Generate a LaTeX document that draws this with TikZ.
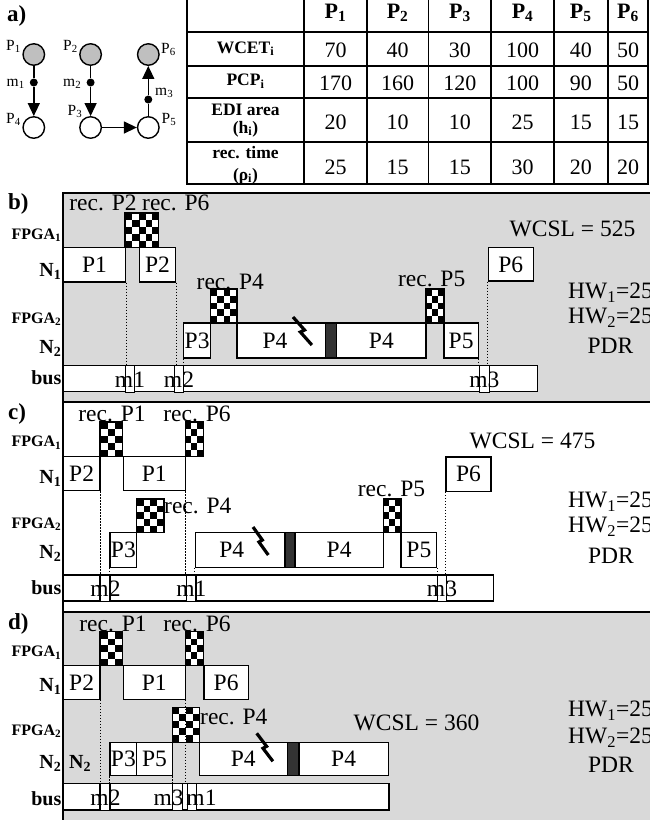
\documentclass[tikz,border=0pt]{standalone}
\usepackage{fontspec}
\setmainfont{Liberation Serif}
\usetikzlibrary{arrows.meta}
\definecolor{panelgray}{HTML}{D9D9D9}
\definecolor{circgray}{HTML}{BFBFBF}
\definecolor{barc}{HTML}{333333}
\tikzset{
  gbox/.style={draw, line width=1.3pt, fill=white, inner sep=0pt, font=\fontsize{23.5}{28}\selectfont},
  mbox/.style={draw, line width=1.1pt, fill=white, inner sep=0pt},
  barbox/.style={draw, line width=1.1pt, fill=barc, inner sep=0pt},
  chkframe/.style={draw, line width=1.3pt, inner sep=0pt},
  lbl/.style={font=\fontsize{23.5}{28}\selectfont, inner sep=0pt},
  rowlbl/.style={font=\bfseries\fontsize{20}{24}\selectfont, anchor=base east, inner sep=0pt},
  fpgalbl/.style={font=\bfseries\fontsize{16}{19}\selectfont, anchor=base east, inner sep=0pt},
  panlbl/.style={font=\bfseries\fontsize{23}{27}\selectfont, anchor=base west, inner sep=0pt},
  dotl/.style={line width=1pt, dash pattern=on 1.2pt off 1.8pt},
  border/.style={line width=1.8pt},
  tline/.style={line width=1.7pt},
  thead/.style={font=\bfseries\fontsize{22}{26}\selectfont, anchor=base, inner sep=0pt},
  tnum/.style={font=\fontsize{22}{26}\selectfont, anchor=base, inner sep=0pt},
  tlab/.style={font=\bfseries\fontsize{17.5}{21}\selectfont, anchor=base, inner sep=0pt},
  proc/.style={circle, draw, line width=1.4pt, minimum size=21.5pt, inner sep=0pt},
  mdot/.style={circle, fill=black, minimum size=8pt, inner sep=0pt},
  conn/.style={line width=1.4pt},
  alab/.style={font=\fontsize{15.5}{18}\selectfont, anchor=base west, inner sep=0pt},
  boltst/.style={line width=3.2pt, line join=miter, miter limit=4},
}
% box node: style, name, x1, x2, y1, y2, text
\newcommand\bx[7]{\node[#1, minimum width={(#4)-(#3)}, minimum height={(#6)-(#5)}] (#2) at ({((#3)+(#4))/2},{((#5)+(#6))/2}) {#7};}
% checker: name, x1, x2, y1, y2
\newcommand\chk[5]{%
  \pgfmathsetmacro\chkw{(#3)-(#2)}%
  \pgfmathsetmacro\chkh{(#5)-(#4)}%
  \pgfmathtruncatemacro\chknc{max(1,round(\chkw/6.9))}%
  \pgfmathsetmacro\chkcw{\chkw/\chknc}%
  \pgfmathsetmacro\chkch{\chkh/5}%
  \begin{scope}
    \clip (#2,#4) rectangle (#3,#5);
    \fill[white] (#2,#4) rectangle (#3,#5);
    \foreach \ii in {1,...,\chknc}{%
      \foreach \jj in {1,...,5}{%
        \pgfmathtruncatemacro\chkodd{mod(\ii+\jj,2)}%
        \ifnum\chkodd=0
          \fill ({#2+(\ii-1)*\chkcw},{#4+(\jj-1)*\chkch}) rectangle ++(\chkcw,\chkch);
        \fi
      }}
  \end{scope}
  \node[chkframe, minimum width=\chkw, minimum height=\chkh] (#1) at ({((#2)+(#3))/2},{((#4)+(#5))/2}) {};
}
\newcommand\bolt[3]{\draw[boltst, shift={(#1,#2)}, xscale=#3] (0,0) -- (11,13) -- (7,15) -- (18,28);}
\begin{document}
\begin{tikzpicture}[x=1pt, y=-1pt]
\useasboundingbox (0,0) rectangle (650,820);
\fill[white] (0,0) rectangle (650,820);
% ---------------- panel a ----------------
\node[panlbl] (la) at (7,21.5) {a)};
\node[proc, fill=circgray] (p1) at (33.8,54.5) {};
\node[proc, fill=circgray] (p2) at (90.6,54.5) {};
\node[proc, fill=circgray] (p6) at (148.3,54.5) {};
\node[proc, fill=white] (p4) at (33.8,127.5) {};
\node[proc, fill=white] (p3) at (90.6,127.5) {};
\node[proc, fill=white] (p5) at (148.3,127.5) {};
\node[mdot] (m1) at (33.8,82.5) {};
\node[mdot] (m2) at (90.6,82.5) {};
\node[mdot] (m3) at (148.3,99.5) {};
\draw[conn] (p1) -- (m1);
\draw[conn, -{Triangle[length=13pt,width=12pt]}] (m1) -- (p4);
\draw[conn] (p2) -- (m2);
\draw[conn, -{Triangle[length=13pt,width=12pt]}] (m2) -- (p3);
\draw[conn, -{Triangle[length=13pt,width=12pt]}] (p3) -- (p5);
\draw[conn] (p5) -- (m3);
\draw[conn, -{Triangle[length=13pt,width=12pt]}] (m3) -- (p6);
\node[alab] (lp1) at (6,50.5) {P\textsubscript{1}};
\node[alab] (lm1) at (6.5,86.7) {m\textsubscript{1}};
\node[alab] (lp4) at (6,123.3) {P\textsubscript{4}};
\node[alab] (lp2) at (63,50.5) {P\textsubscript{2}};
\node[alab] (lm2) at (63,86.7) {m\textsubscript{2}};
\node[alab] (lp3) at (67.5,115) {P\textsubscript{3}};
\node[alab] (lp6) at (161,53.3) {P\textsubscript{6}};
\node[alab] (lm3) at (155,95.7) {m\textsubscript{3}};
\node[alab] (lp5) at (161.5,123.3) {P\textsubscript{5}};
% ---------------- table ----------------
\draw[tline] (186.7,-3) -- (186.7,184.3) -- (648.3,184.3) -- (648.3,-3);
\foreach \x in {304.3,366.7,428.5,491.3,554,607.7} \draw[tline] (\x,-3) -- (\x,184.3);
\foreach \y in {32.3,65.7,97.7,142.3} \draw[tline] (186.7,\y) -- (648.3,\y);
\node[tlab] (t-w) at (245.5,53.3) {WCET\textsubscript{i}};
\node[tlab] (t-p) at (245.5,85.7) {PCP\textsubscript{i}};
\node[tlab] (t-e1) at (245.5,115.7) {EDI area};
\node[tlab] (t-e2) at (245.5,133.3) {(h\textsubscript{i})};
\node[tlab] (t-r1) at (245.5,158.3) {rec. time};
\node[tlab] (t-r2) at (245.5,180) {(ρ\textsubscript{i})};
\foreach \cx/\k/\tva/\tvb/\tvc/\tvd in {335.5/1/70/170/20/25, 397.6/2/40/160/10/15, 459.9/3/30/120/10/15, 522.6/4/100/100/25/30, 580.8/5/40/90/15/20, 628/6/50/50/15/20}{
  \node[thead] (t-h\k) at (\cx,18.3) {P\textsubscript{\k}};
  \node[tnum] (t-a\k) at (\cx,57.3) {\tva};
  \node[tnum] (t-b\k) at (\cx,90) {\tvb};
  \node[tnum] (t-c\k) at (\cx,129.5) {\tvc};
  \node[tnum] (t-d\k) at (\cx,174) {\tvd};
}
% ---------------- panel backgrounds ----------------
\fill[panelgray] (63.3,193) rectangle (652,402);
\fill[panelgray] (63.3,612) rectangle (652,822);
\draw[border] (63.3,822) -- (63.3,193) -- (652,193);
\draw[border] (63.3,402) -- (652,402);
\draw[border] (63.3,612) -- (652,612);
% ---------------- panel b ----------------
\node[panlbl] (lb) at (8,209.5) {b)};
\node[fpgalbl] (b-f1) at (61.5,239) {FPGA\textsubscript{1}};
\node[rowlbl] (b-n1) at (61.5,276) {N\textsubscript{1}};
\node[fpgalbl] (b-f2) at (61.5,323.3) {FPGA\textsubscript{2}};
\node[rowlbl] (b-n2) at (61.5,353) {N\textsubscript{2}};
\node[rowlbl] (b-bl) at (61.5,384) {bus};
\chk{b-c2}{125}{139.3}{213}{247.7}
\chk{b-c6}{139.3}{158.3}{213}{247.7}
\bx{gbox}{b-p1}{63.3}{125.7}{247.7}{282}{P1}
\bx{gbox}{b-p2}{139.3}{175.7}{247.7}{282}{P2}
\bx{gbox}{b-p6}{488.3}{533.3}{247.7}{281}{P6}
\chk{b-c4}{210.5}{237}{289}{323}
\chk{b-c5}{426}{444}{289}{323}
\bx{gbox}{b-p3}{183.7}{210.5}{323}{358}{P3}
\bx{gbox}{b-p4a}{237}{325.7}{323}{358}{}
\bx{barbox}{b-bar}{325.7}{336.7}{323}{358}{}
\bx{gbox}{b-p4b}{336.7}{426}{323}{358}{P4}
\bx{gbox}{b-p5}{444}{478.3}{323}{358}{P5}
\node[lbl] (b-p4t) at (275,340.5) {P4};
\bolt{293}{317}{1.05}
\bx{gbox}{b-bus}{63.3}{537.3}{365.7}{391.7}{}
\bx{mbox}{b-m1}{125.3}{134.7}{365.7}{392.5}{}
\bx{mbox}{b-m2}{174.3}{183.7}{365.7}{392.5}{}
\bx{mbox}{b-m3}{479.3}{489.3}{365.7}{392.5}{}
\draw[dotl] (b-p1.south east) -- (b-p1.south east |- b-bus.north);
\draw[dotl] (b-p2.south east) -- (b-p2.south east |- b-bus.north);
\draw[dotl] (b-p3.south west) -- (b-p3.south west |- b-bus.north);
\draw[dotl] (b-p5.south east) -- (b-p5.south east |- b-bus.north);
\draw[dotl] (b-p6.south west) -- (b-p6.south west |- b-bus.north);
\node[lbl] (b-m1t) at (130,379.5) {m1};
\node[lbl] (b-m2t) at (179,379.5) {m2};
\node[lbl] (b-m3t) at (484.3,379.5) {m3};
\node[lbl, anchor=base] (b-r2) at (103,210.7) {rec. P2};
\node[lbl, anchor=base] (b-r6) at (175.8,210.7) {rec. P6};
\node[lbl, anchor=base] (b-r4) at (230.3,289.3) {rec. P4};
\node[lbl, anchor=base] (b-r5) at (431.7,286.7) {rec. P5};
\node[lbl, anchor=base] (b-wcsl) at (572.5,236.7) {WCSL = 525};
\node[lbl, anchor=base west] (b-hw1) at (568,298.3) {HW\textsubscript{1}=25};
\node[lbl, anchor=base west] (b-hw2) at (568,323.3) {HW\textsubscript{2}=25};
\node[lbl, anchor=base] (b-pdr) at (610.5,353.3) {PDR};
% ---------------- panel c ----------------
\node[panlbl] (lc) at (8,419) {c)};
\node[fpgalbl] (c-f1) at (61.5,446.7) {FPGA\textsubscript{1}};
\node[rowlbl] (c-n1) at (61.5,483) {N\textsubscript{1}};
\node[fpgalbl] (c-f2) at (61.5,528.3) {FPGA\textsubscript{2}};
\node[rowlbl] (c-n2) at (61.5,558) {N\textsubscript{2}};
\node[rowlbl] (c-bl) at (61.5,594.5) {bus};
\chk{c-c1}{100}{122.7}{422}{456.7}
\chk{c-c6}{185.3}{203.3}{422}{456.7}
\bx{gbox}{c-p2}{63.3}{100}{456.7}{490.7}{P2}
\bx{gbox}{c-p1}{123.3}{185.3}{456.7}{490.7}{P1}
\bx{gbox}{c-p6}{446}{491}{457}{491.3}{P6}
\chk{c-c4}{136.7}{164}{499}{532.3}
\chk{c-c5}{383.3}{401}{499}{532.3}
\bx{gbox}{c-p3}{110}{136.7}{532.3}{567.3}{P3}
\bx{gbox}{c-p4a}{195.3}{285}{532.3}{567.3}{}
\bx{barbox}{c-bar}{285}{295}{532.3}{567.3}{}
\bx{gbox}{c-p4b}{295}{383.3}{532.3}{567.3}{P4}
\bx{gbox}{c-p5}{401}{436.7}{532.3}{567.3}{P5}
\node[lbl] (c-p4t) at (231.7,549.8) {P4};
\bolt{253}{527}{0.85}
\bx{gbox}{c-bus}{63.3}{493.3}{575}{601}{}
\bx{mbox}{c-m2}{100}{110}{575}{601.8}{}
\bx{mbox}{c-m1}{186.7}{196}{575}{601.8}{}
\bx{mbox}{c-m3}{437.3}{446.7}{575}{601.8}{}
\draw[dotl] (c-p2.south east) -- (c-p2.south east |- c-bus.north);
\draw[dotl] (c-p1.south east) -- (c-p1.south east |- c-bus.north);
\draw[dotl] (c-p3.south west) -- (c-p3.south west |- c-bus.north);
\draw[dotl] (c-p4a.south west) -- (c-p4a.south west |- c-bus.north);
\draw[dotl] (c-p5.south east) -- (c-p5.south east |- c-bus.north);
\draw[dotl] (c-p6.south west) -- (c-p6.south west |- c-bus.north);
\node[lbl] (c-m2t) at (105.5,589) {m2};
\node[lbl] (c-m1t) at (191.3,589) {m1};
\node[lbl] (c-m3t) at (442,589) {m3};
\node[lbl, anchor=base] (c-r1) at (112,421) {rec. P1};
\node[lbl, anchor=base] (c-r6) at (197,421) {rec. P6};
\node[lbl, anchor=base west] (c-r4) at (164,513.3) {rec. P4};
\node[lbl, anchor=base] (c-r5) at (391.5,496.7) {rec. P5};
\node[lbl, anchor=base] (c-wcsl) at (532.5,448.3) {WCSL = 475};
\node[lbl, anchor=base west] (c-hw1) at (568,507.7) {HW\textsubscript{1}=25};
\node[lbl, anchor=base west] (c-hw2) at (568,532.3) {HW\textsubscript{2}=25};
\node[lbl, anchor=base] (c-pdr) at (611,563.3) {PDR};
% ---------------- panel d ----------------
\node[panlbl] (ld) at (8,629.5) {d)};
\node[fpgalbl] (d-f1) at (61.5,656.7) {FPGA\textsubscript{1}};
\node[rowlbl] (d-n1) at (61.5,691.7) {N\textsubscript{1}};
\node[fpgalbl] (d-f2) at (61.5,735) {FPGA\textsubscript{2}};
\node[rowlbl] (d-n2) at (61.5,768.3) {N\textsubscript{2}};
\node[rowlbl, anchor=base west] (d-n2b) at (69,768.3) {N\textsubscript{2}};
\node[rowlbl] (d-bl) at (61.5,805) {bus};
\chk{d-c1}{100}{122.7}{631.7}{665.7}
\chk{d-c6}{185.3}{203.3}{631.7}{665.7}
\bx{gbox}{d-p2}{63.3}{100}{665.7}{699.3}{P2}
\bx{gbox}{d-p1}{123.3}{185.3}{665.7}{699.3}{P1}
\bx{gbox}{d-p6}{204}{248.3}{665.7}{699.3}{P6}
\chk{d-c4}{172.3}{199.3}{707.3}{742.3}
\bx{gbox}{d-p3}{110}{136.7}{742.3}{775.7}{P3}
\bx{gbox}{d-p5}{136.7}{172.3}{742.3}{775.7}{P5}
\bx{gbox}{d-p4a}{199.3}{287.3}{742.3}{775.7}{P4}
\bx{barbox}{d-bar}{287.3}{299}{742.3}{775.7}{}
\bx{gbox}{d-p4b}{299}{388.3}{742.3}{775.7}{P4}
\bolt{256.7}{733.3}{0.9}
\bx{gbox}{d-bus}{63.3}{389}{783.3}{810}{}
\bx{mbox}{d-m2}{100}{110}{783.3}{810.8}{}
\bx{mbox}{d-m3}{172.7}{182.7}{783.3}{810.8}{}
\bx{mbox}{d-m1}{187.3}{196.7}{783.3}{810.8}{}
\draw[dotl] (d-p2.south east) -- (d-p2.south east |- d-bus.north);
\draw[dotl] (d-p1.south east) -- (d-p1.south east |- d-bus.north);
\draw[dotl] (d-p3.south west) -- (d-p3.south west |- d-bus.north);
\draw[dotl] (d-p5.south east) -- (d-p5.south east |- d-bus.north);
\node[lbl] (d-m2t) at (105.5,797.5) {m2};
\node[lbl] (d-m3t) at (168.7,797.5) {m3};
\node[lbl] (d-m1t) at (201.5,797.5) {m1};
\node[lbl, anchor=base] (d-r1) at (113,631.7) {rec. P1};
\node[lbl, anchor=base] (d-r6) at (197,631.7) {rec. P6};
\node[lbl, anchor=base west] (d-r4) at (200,724) {rec. P4};
\node[lbl, anchor=base] (d-wcsl) at (416.5,730) {WCSL = 360};
\node[lbl, anchor=base west] (d-hw1) at (568,716.7) {HW\textsubscript{1}=25};
\node[lbl, anchor=base west] (d-hw2) at (568,743.3) {HW\textsubscript{2}=25};
\node[lbl, anchor=base] (d-pdr) at (611,772.7) {PDR};
\end{tikzpicture}
\end{document}
